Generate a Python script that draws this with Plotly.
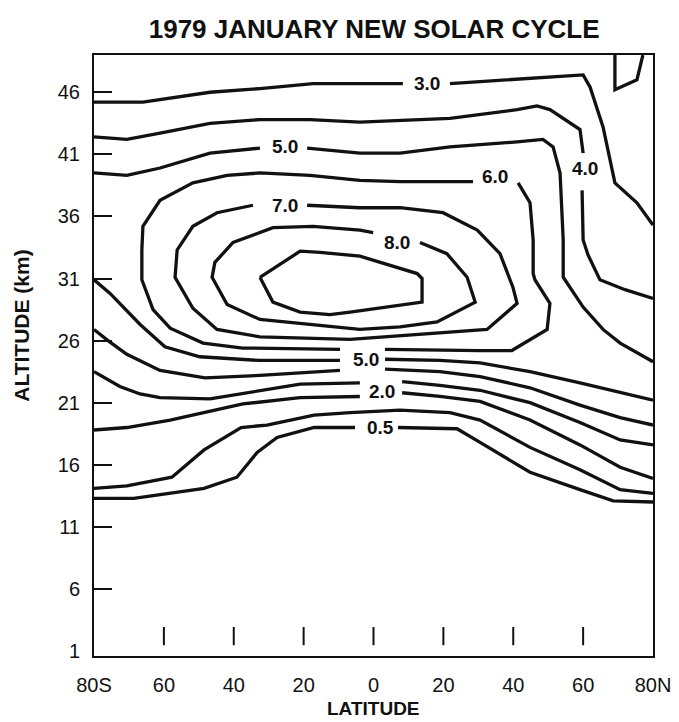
import plotly.graph_objects as go

# ---------------- axis data ----------------
LAT_TICKS = [-80, -60, -40, -20, 0, 20, 40, 60, 80]
LAT_TICK_TEXT = ["80S", "60", "40", "20", "0", "20", "40", "60", "80N"]
LAT_MINOR = [-60, -40, -20, 0, 20, 40, 60]
ALT_TICKS = [1, 6, 11, 16, 21, 26, 31, 36, 41, 46]
ALT_MARKS = [6, 11, 16, 21, 26, 31, 36, 41, 46]

# ---------------- isopleths (latitude deg, altitude km), ozone ppmv ----------------
c30_a = [(-80, 45.2), (-66, 45.2), (-46.8, 46.0), (-32.5, 46.3), (-17.3, 46.7), (-3.9, 46.7), (8.4, 46.7)]
c30_b = [(21.9, 46.7), (60, 47.4), (62, 46.4), (65.7, 43.2), (69.1, 38.7), (75.4, 37.1), (80, 35.3)]
c30_pole = [(69.1, 49.0), (69.1, 46.2), (75.4, 47.0), (77.1, 49.0)]

c40_a = [(-80, 42.4), (-70.6, 42.2), (-61.1, 42.7), (-46.8, 43.5), (-32.5, 43.8), (-18.2, 43.8),
         (-3.9, 43.6), (21.9, 43.9), (41.1, 44.6), (46.8, 44.9), (50.5, 44.6), (59.1, 43.0), (60, 41.1)]
c40_b = [(59.7, 38.1), (60, 34.1), (61.4, 32.9), (64.8, 30.9), (72.0, 30.1), (80, 29.4)]

c50_a = [(-80, 39.5), (-70.6, 39.3), (-61.1, 39.9), (-46.8, 41.1), (-32.5, 41.5)]
c50_b = [(-19.0, 41.5), (-3.9, 41.1), (7.6, 41.1), (21.9, 41.6), (41.1, 42.0), (48.5, 42.2), (51.4, 41.6),
         (53.4, 39.5), (54.3, 34.1), (54.3, 31.1), (60, 28.7), (65.7, 26.9), (70.6, 25.8), (80, 24.3)]

c60_a = [(41.4, 38.7), (44.8, 37.1), (45.7, 34.1), (45.7, 31.4), (46.2, 30.9), (50.5, 29.0), (49.7, 26.9),
         (39.6, 25.2), (30.5, 25.2), (3.3, 25.3)]
c60_b = [(-9.6, 25.3), (-37.4, 25.4), (-48.8, 25.8), (-58.2, 27.0), (-63.1, 28.5), (-66.3, 30.9),
         (-66.3, 33.3), (-66.0, 35.2), (-61.1, 37.3), (-51.7, 38.7), (-41.9, 39.3), (-32.5, 39.5),
         (-18.2, 39.3), (-3.9, 38.9), (7.6, 38.8), (28.5, 38.8)]

c70 = [(-19.0, 36.9), (-3.9, 36.7), (7.6, 36.7), (19.9, 36.3), (29.7, 34.9), (36.2, 33.0), (39.9, 30.3),
       (41.1, 29.0), (32.5, 26.9), (-6.7, 26.1), (-32.5, 26.3), (-44.8, 26.9), (-51.7, 28.6),
       (-56.8, 31.1), (-56.2, 33.3), (-51.7, 35.2), (-44.8, 36.3), (-34.5, 36.9)]

c80 = [(13.3, 33.9), (21.0, 33.0), (26.8, 31.1), (29.1, 29.1), (18.2, 27.5), (7.6, 27.1), (-3.9, 26.9),
       (-32.5, 27.7), (-41.9, 28.9), (-46.2, 31.1), (-45.4, 32.3), (-40.2, 33.9), (-28.8, 35.1),
       (-17.3, 35.2), (-3.9, 34.9), (-0.1, 34.7)]

c90 = [(-32.5, 31.1), (-25.9, 32.3), (-21.0, 33.2), (-15.3, 33.1), (-3.9, 32.8), (12.5, 31.4), (13.9, 31.0),
       (13.9, 29.1), (1.9, 28.6), (-6.7, 28.3), (-12.5, 28.1), (-21.0, 28.3), (-28.8, 29.1), (-32.5, 31.1)]

c50lo_a = [(-80, 30.9), (-75.4, 29.8), (-66.8, 27.3), (-59.7, 25.5), (-49.7, 24.7), (-32.5, 24.4), (-9.6, 24.4)]
c50lo_b = [(3.3, 24.5), (19.0, 24.4), (30.5, 24.2), (44.8, 23.5), (59.1, 22.6), (70.6, 21.8), (80, 21.2)]

c40lo_a = [(-80, 26.9), (-76.0, 26.0), (-70.6, 24.9), (-61.1, 23.6), (-48.2, 23.0), (-32.5, 23.2), (-9.6, 23.6)]
c40lo_b = [(3.3, 23.7), (19.0, 23.5), (30.5, 23.1), (44.8, 22.2), (59.1, 20.8), (70.6, 19.8), (80, 19.2)]

c30lo_a = [(-80, 23.5), (-75.4, 22.8), (-72.6, 22.3), (-66.8, 21.7), (-61.1, 21.4), (-46.8, 21.3),
           (-32.5, 22.0), (-21.0, 22.5), (-3.9, 22.6)]
c30lo_b = [(8.2, 22.7), (19.0, 22.4), (30.5, 22.0), (44.8, 21.0), (59.1, 19.4), (70.6, 18.0), (80, 17.6)]

c20_a = [(-80, 18.8), (-70.6, 19.0), (-58.2, 19.6), (-46.8, 20.3), (-37.4, 20.9), (-21.0, 21.4), (-3.9, 21.5)]
c20_b = [(8.2, 21.8), (19.0, 21.5), (30.5, 21.1), (44.8, 19.6), (59.1, 17.6), (70.6, 15.8), (80, 14.9)]

c10 = [(-80, 14.1), (-70.6, 14.3), (-57.7, 15.0), (-48.5, 17.2), (-37.9, 19.0), (-30.5, 19.2), (-17.0, 20.0),
       (-6.7, 20.2), (7.6, 20.4), (21.9, 20.2), (30.5, 19.6), (44.8, 17.4), (59.1, 15.6), (70.6, 14.0), (80, 13.7)]

c05_a = [(-80, 13.3), (-68.6, 13.3), (-48.5, 14.1), (-39.1, 15.0), (-33.3, 17.0), (-27.6, 18.2),
         (-17.0, 19.0), (-5.3, 19.0)]
c05_b = [(7.0, 19.0), (23.9, 18.9), (30.5, 17.8), (44.8, 15.4), (59.1, 14.0), (68.6, 13.1), (80, 13.0)]

SEGMENTS = [c30_a, c30_b, c30_pole, c40_a, c40_b, c50_a, c50_b, c60_a, c60_b, c70, c80, c90,
            c50lo_a, c50lo_b, c40lo_a, c40lo_b, c30lo_a, c30lo_b, c20_a, c20_b, c10, c05_a, c05_b]

# contour labels: text, latitude, altitude
LABELS = [("3.0", 15.3, 46.7), ("5.0", -25.3, 41.6), ("7.0", -25.3, 36.9), ("6.0", 34.8, 39.2),
          ("4.0", 60.5, 39.9), ("8.0", 6.7, 33.9), ("5.0", -2.1, 24.5), ("2.0", 2.4, 21.9),
          ("0.5", 2.1, 19.0)]

INK = "#111111"
FONT = "Liberation Sans, Arial, Helvetica, sans-serif"
TICK_ALT = 2.2
ALT_RANGE = [0.6, 49]

fig = go.Figure()
for seg in SEGMENTS:
    fig.add_trace(go.Scatter(
        x=[p[0] for p in seg], y=[p[1] for p in seg], mode="lines",
        line=dict(color=INK, width=3.3), hoverinfo="skip", showlegend=False))

# short latitude tick marks standing above the baseline (drawn on the overlay axis)
fig.add_trace(go.Scatter(
    x=LAT_MINOR, y=[TICK_ALT] * len(LAT_MINOR), mode="markers", yaxis="y2",
    marker=dict(symbol="line-ns", size=13, line=dict(color=INK, width=2)),
    hoverinfo="skip", showlegend=False))

for txt, la, al in LABELS:
    fig.add_annotation(x=la, y=al, text="<b>%s</b>" % txt, showarrow=False,
                       font=dict(family=FONT, size=19, color=INK))

fig.add_annotation(xref="paper", yref="paper", x=-0.13, y=0.55, xanchor="center", yanchor="middle",
                   text="<b>ALTITUDE (km)</b>", textangle=-90, showarrow=False,
                   font=dict(family=FONT, size=21, color=INK))
fig.add_annotation(xref="paper", yref="paper", x=0.5, y=-0.087, xanchor="center", yanchor="middle",
                   text="<b>LATITUDE</b>", showarrow=False,
                   font=dict(family=FONT, size=19, color=INK))

fig.update_layout(
    width=679, height=722,
    margin=dict(l=94, r=26, t=55, b=66),
    paper_bgcolor="white", plot_bgcolor="white",
    title=dict(text="<b>1979 JANUARY NEW SOLAR CYCLE</b>", x=0.551, xanchor="center",
               y=0.96, yanchor="middle", font=dict(family=FONT, size=26, color=INK)),
    font=dict(family=FONT, color=INK),
    xaxis=dict(range=[-80, 80], tickvals=LAT_TICKS, ticktext=LAT_TICK_TEXT, ticks="",
               showgrid=False, zeroline=False, showline=True, mirror=True, linecolor=INK,
               linewidth=2, tickfont=dict(size=20), ticklabelstandoff=10, automargin=False),
    yaxis=dict(range=ALT_RANGE, tickvals=ALT_TICKS, ticks="",
               showgrid=False, zeroline=False, showline=True, mirror=True,
               linecolor=INK, linewidth=2, tickfont=dict(size=20), ticklabelstandoff=8,
               automargin=False),
    yaxis2=dict(range=ALT_RANGE, overlaying="y", side="left", tickvals=ALT_MARKS,
                ticks="inside", ticklen=18, tickwidth=2, tickcolor=INK, showticklabels=False,
                showgrid=False, zeroline=False, showline=False, automargin=False),
)

fig.write_html("out.html")
